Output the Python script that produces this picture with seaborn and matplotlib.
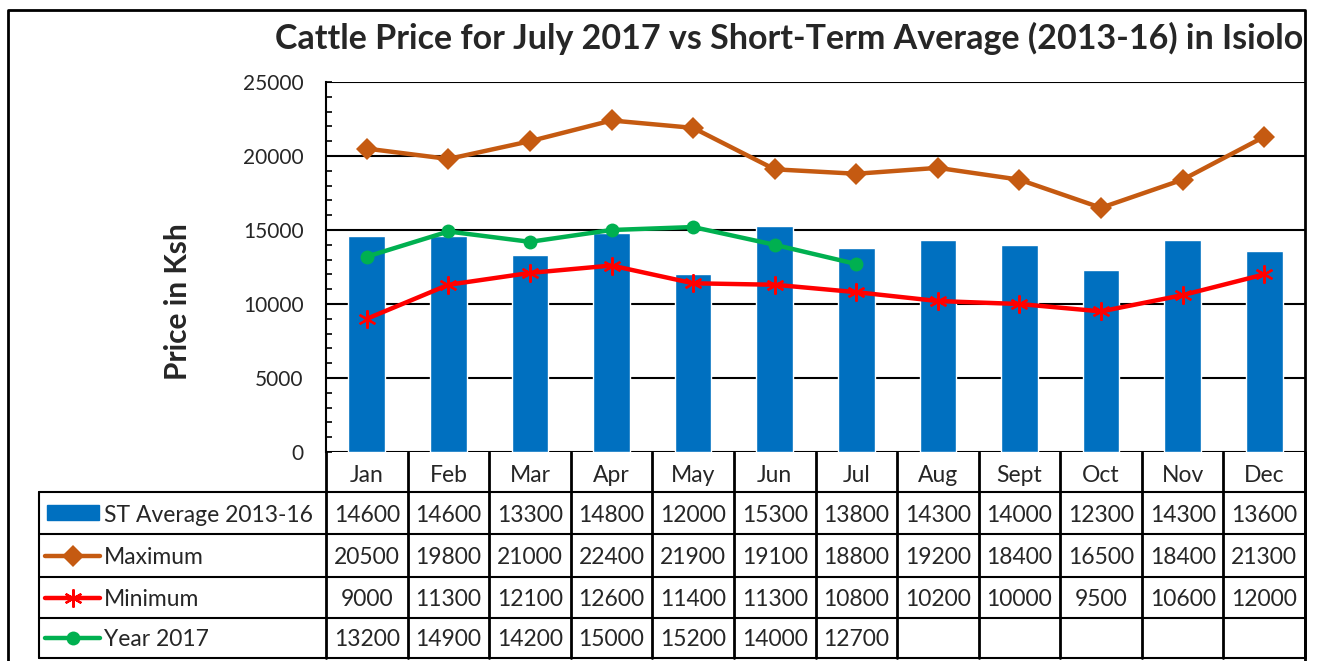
import numpy as np
import matplotlib
matplotlib.use('Agg')
import matplotlib.pyplot as plt
from matplotlib.patches import Rectangle
from matplotlib.ticker import MultipleLocator
import seaborn as sns

# Data
months = ['Jan', 'Feb', 'Mar', 'Apr', 'May', 'Jun', 'Jul', 'Aug', 'Sept', 'Oct', 'Nov', 'Dec']
st_average = [14600, 14600, 13300, 14800, 12000, 15300, 13800, 14300, 14000, 12300, 14300, 13600]
maximum = [20500, 19800, 21000, 22400, 21900, 19100, 18800, 19200, 18400, 16500, 18400, 21300]
minimum = [9000, 11300, 12100, 12600, 11400, 11300, 10800, 10200, 10000, 9500, 10600, 12000]
year_2017 = [13200, 14900, 14200, 15000, 15200, 14000, 12700]

c_bar = '#0070C0'
c_max = '#C55A11'
c_min = '#FF0000'
c_2017 = '#00B050'

sns.set_style('white')
plt.rcParams['font.family'] = ['Lato', 'DejaVu Sans']

W, H = 1321, 661
fig = plt.figure(figsize=(W / 100, H / 100), dpi=100)

# plot area in pixels
left, right, top, bottom = 326, 1305, 82, 452
ax = fig.add_axes([left / W, 1 - bottom / H, (right - left) / W, (bottom - top) / H])

max_style = dict(color=c_max, lw=3.2, marker='D', markersize=11.5, markeredgewidth=0)
min_style = dict(color=c_min, lw=3.2, marker=(6, 2, 0), markersize=13,
                 markeredgewidth=1.6, markeredgecolor=c_min)
y17_style = dict(color=c_2017, lw=3.2, marker='o', markersize=10, markeredgewidth=0)

idx = np.arange(len(months))
sns.barplot(x=idx, y=st_average, color=c_bar, saturation=1, width=0.45, ax=ax, zorder=2)
sns.lineplot(x=idx, y=maximum, ax=ax, zorder=4, **max_style)
sns.lineplot(x=idx, y=minimum, ax=ax, zorder=4, **min_style)
sns.lineplot(x=idx[:len(year_2017)], y=year_2017, ax=ax, zorder=4, **y17_style)

ax.set_xlim(-0.5, 11.5)
ax.set_ylim(0, 25000)
ax.yaxis.set_major_locator(MultipleLocator(5000))
ax.yaxis.set_minor_locator(MultipleLocator(1000))
ax.set_xticks([])
ax.set_xlabel('')
ax.set_ylabel('')
ax.tick_params(axis='y', which='both', direction='in', left=True, color='black',
               width=1.2, length=4, labelsize=15, pad=16)
ax.grid(axis='y', which='major', color='black', lw=1.5)
ax.set_axisbelow(True)
for s in ['top', 'right', 'bottom']:
    ax.spines[s].set_visible(False)
ax.spines['left'].set_color('black')
ax.spines['left'].set_linewidth(1.5)

# overlay in pixel coordinates for the data table and frame
ov = fig.add_axes([0, 0, 1, 1], facecolor='none')
ov.set_xlim(0, W)
ov.set_ylim(H, 0)
ov.axis('off')

lw = 1.5
# outer chart border
ov.plot([8, 8, right, right], [H, 10, 10, H], color='black', lw=2)

colw = (right - left) / len(months)
row_edges = [452, 492, 534, 577, 618, 658]
tab_left = 39

# horizontal lines
for y in row_edges[1:]:
    ov.plot([tab_left, right], [y, y], color='black', lw=lw)
# vertical lines
ov.plot([tab_left, tab_left], [row_edges[1], row_edges[-1]], color='black', lw=lw)
for i in range(len(months) + 1):
    x = left + i * colw
    ov.plot([x, x], [row_edges[0], row_edges[-1]], color='black', lw=2)

# month headers
for i, m in enumerate(months):
    ov.text(left + (i + 0.5) * colw, (row_edges[0] + row_edges[1]) / 2 + 3, m,
            ha='center', va='center', fontsize=16.5)

rows = [('ST Average 2013-16', st_average), ('Maximum', maximum),
        ('Minimum', minimum), ('Year 2017', year_2017)]
for r, (label, vals) in enumerate(rows):
    yc = (row_edges[r + 1] + row_edges[r + 2]) / 2 + 2
    ov.text(104, yc, label, ha='left', va='center', fontsize=16.5)
    for i, v in enumerate(vals):
        ov.text(left + (i + 0.5) * colw, yc, str(v), ha='center', va='center', fontsize=16.5)

# legend keys
yk = [(row_edges[r + 1] + row_edges[r + 2]) / 2 for r in range(4)]
ov.add_patch(Rectangle((47, yk[0] - 8), 52, 15, color=c_bar))
for y, st in zip(yk[1:], [max_style, min_style, y17_style]):
    ov.plot([45, 72.5, 100], [y, y, y], markevery=[1], **st)

fig.text(789 / W, 1 - 38 / H, 'Cattle Price for July 2017 vs Short-Term Average (2013-16) in Isiolo',
         ha='center', va='center', fontsize=24.5, fontweight='bold')
fig.text(178 / W, 1 - 302 / H, 'Price in Ksh', ha='center', va='center', rotation=90,
         fontsize=21.5, fontweight='bold')

fig.savefig('out.png', dpi=100)
